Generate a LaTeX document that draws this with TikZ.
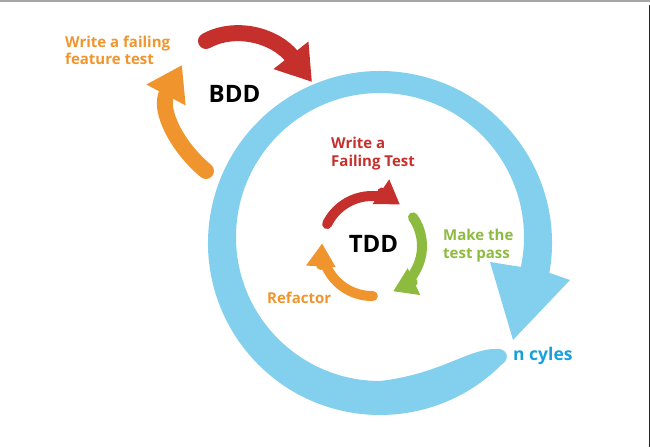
\documentclass[tikz,border=0pt]{standalone}
\usepackage{fontspec}
\setmainfont{Open Sans}
\usepackage{xcolor}
\usepackage{tikz}
\usetikzlibrary{arrows.meta,positioning,calc}

\definecolor{cycblue}{HTML}{82CFEE}
\definecolor{txtblue}{HTML}{1A9FDC}
\definecolor{failred}{HTML}{C5302C}
\definecolor{passgreen}{HTML}{8DBB3F}
\definecolor{reforange}{HTML}{F0952E}

\begin{document}
\begin{tikzpicture}[x=1pt, y=-1pt,
  lbl/.style={font=\bfseries\fontsize{15}{17.5}\selectfont, anchor=base west, align=left, inner sep=0pt},
  big/.style={font=\bfseries\fontsize{24}{26}\selectfont, text=black, inner sep=0pt},
  tddarrow/.style={line width=10pt, line cap=round, -{Triangle[length=23pt,width=28pt]}},
  bddarrow/.style={line width=16pt, line cap=round, -{Triangle[length=34pt,width=42pt]}}]

  \useasboundingbox (0,0) rectangle (650,447);
  % frame edges
  \draw[gray!70, line width=1.5pt] (0,0.75) -- (650,0.75);
  \draw[black!85, line width=1.5pt] (649.25,5) -- (649.25,447);

  % centres
  \coordinate (outc) at (380,243);
  \coordinate (innc) at (380,237);
  \coordinate (tddc) at (372,246);

  % n cycles arrow
  \fill[cycblue] ($(outc)+(10:172)$) arc[start angle=10, end angle=-315, radius=172]
    .. controls (511,359) and (507,347) .. (495,349)
    .. controls (468,349) and (440,374) .. (380,381)
    arc[start angle=90, end angle=372, radius=144]
    -- (490,262) -- (513,340) -- (570,280) -- cycle;

  % BDD loop
  \draw[bddarrow, failred] (206,41) .. controls (235,25) and (275,35) .. (312,82);
  \draw[bddarrow, reforange] (206,171) .. controls (178,148) and (158,110) .. (182,65);

  % TDD loop
  \draw[tddarrow, failred] ($(tddc)+(206:50)$) arc[start angle=206, end angle=304, radius=50];
  \draw[tddarrow, passgreen] ($(tddc)+(325:50)$) arc[start angle=325, end angle=425, radius=50];
  \draw[tddarrow, reforange] ($(tddc)+(89:50)$) arc[start angle=89, end angle=183, radius=50];

  % labels (base = last line)
  \node[big] (bdd) at (234.5,93.5) {BDD};
  \node[big] (tdd) at (373.5,244) {TDD};
  \node[lbl, text=reforange] (bddtest) at (65,64.5) {Write a failing\\feature test};
  \node[lbl, text=failred, font=\bfseries\fontsize{15}{18.5}\selectfont] (wfail) at (331,166.5) {Write a\\Failing Test};
  \node[lbl, text=passgreen, font=\bfseries\fontsize{15}{18}\selectfont] (mpass) at (443,258) {Make the\\test pass};
  \node[lbl, text=reforange] (refac) at (267,303) {Refactor};
  \node[lbl, text=txtblue, font=\bfseries\fontsize{17.5}{20}\selectfont] (ncyc) at (513,360) {n cyles};
\end{tikzpicture}
\end{document}
